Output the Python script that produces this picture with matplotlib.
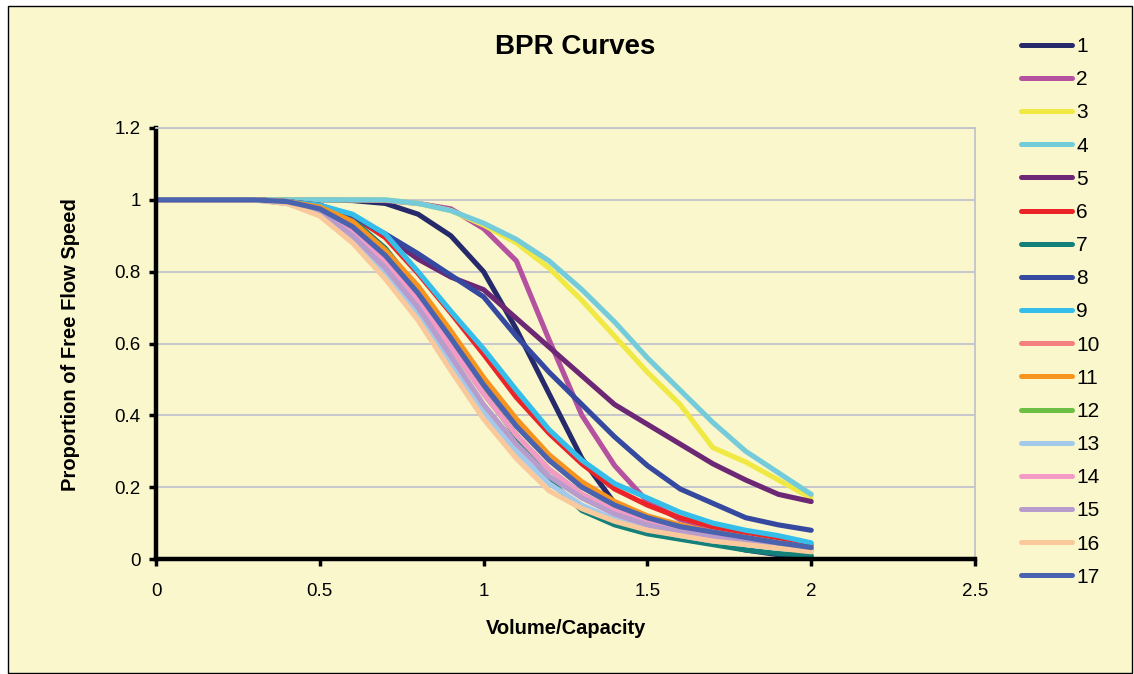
import matplotlib
matplotlib.use("Agg")
import matplotlib.pyplot as plt
from matplotlib.patches import Rectangle

plt.rcParams['font.family'] = ['Liberation Sans', 'DejaVu Sans']

# volume/capacity ratio, 0 to 2 in steps of 0.1
vc = [0.0, 0.1, 0.2, 0.3, 0.4, 0.5, 0.6, 0.7, 0.8, 0.9, 1.0,
      1.1, 1.2, 1.3, 1.4, 1.5, 1.6, 1.7, 1.8, 1.9, 2.0]

# proportion of free flow speed, one list per curve
c1 = [1, 1, 1, 1, 1, 1, 0.998, 0.99, 0.96, 0.90, 0.80,
      0.64, 0.46, 0.28, 0.155, 0.10, 0.07, 0.045, 0.025, 0.012, 0.005]
c2 = [1, 1, 1, 1, 1, 1, 1, 0.998, 0.99, 0.975, 0.92,
      0.83, 0.61, 0.40, 0.26, 0.16, 0.11, 0.085, 0.065, 0.045, 0.03]
c3 = [1, 1, 1, 1, 1, 1, 1, 1, 0.99, 0.97, 0.93,
      0.88, 0.81, 0.72, 0.62, 0.52, 0.43, 0.31, 0.27, 0.22, 0.17]
c4 = [1, 1, 1, 1, 1, 1, 1, 1, 0.99, 0.97, 0.935,
      0.89, 0.83, 0.75, 0.66, 0.56, 0.47, 0.38, 0.30, 0.24, 0.18]
c5 = [1, 1, 1, 1, 0.995, 0.98, 0.955, 0.90, 0.835, 0.785, 0.75,
      0.67, 0.59, 0.51, 0.43, 0.375, 0.32, 0.265, 0.22, 0.18, 0.16]
c6 = [1, 1, 1, 1, 0.995, 0.985, 0.955, 0.895, 0.795, 0.685, 0.57,
      0.45, 0.35, 0.265, 0.195, 0.15, 0.115, 0.09, 0.07, 0.055, 0.04]
c7 = [1, 1, 1, 1, 0.995, 0.98, 0.945, 0.865, 0.75, 0.615, 0.47,
      0.34, 0.22, 0.135, 0.095, 0.07, 0.055, 0.04, 0.025, 0.015, 0.01]
c8 = [1, 1, 1, 1, 0.995, 0.985, 0.955, 0.905, 0.85, 0.79, 0.73,
      0.62, 0.52, 0.43, 0.34, 0.26, 0.195, 0.155, 0.115, 0.095, 0.08]
c9 = [1, 1, 1, 1, 0.995, 0.985, 0.96, 0.905, 0.80, 0.69, 0.585,
      0.47, 0.36, 0.275, 0.21, 0.17, 0.13, 0.10, 0.08, 0.065, 0.045]
c10 = [1, 1, 1, 1, 0.995, 0.975, 0.925, 0.845, 0.74, 0.615, 0.485,
       0.37, 0.275, 0.20, 0.15, 0.115, 0.09, 0.075, 0.06, 0.045, 0.03]
c11 = [1, 1, 1, 1, 0.995, 0.98, 0.94, 0.86, 0.76, 0.635, 0.505,
       0.39, 0.29, 0.215, 0.16, 0.12, 0.095, 0.075, 0.06, 0.045, 0.03]
c12 = [1, 1, 1, 1, 0.995, 0.97, 0.91, 0.83, 0.72, 0.59, 0.46,
       0.345, 0.25, 0.18, 0.135, 0.10, 0.08, 0.065, 0.05, 0.04, 0.03]
c13 = [1, 1, 1, 1, 0.99, 0.96, 0.89, 0.795, 0.685, 0.545, 0.41,
       0.30, 0.21, 0.15, 0.11, 0.085, 0.065, 0.05, 0.04, 0.03, 0.025]
c14 = [1, 1, 1, 1, 0.995, 0.97, 0.91, 0.83, 0.72, 0.59, 0.46,
       0.345, 0.25, 0.18, 0.135, 0.10, 0.08, 0.065, 0.05, 0.04, 0.03]
c15 = [1, 1, 1, 1, 0.99, 0.965, 0.90, 0.81, 0.70, 0.565, 0.43,
       0.32, 0.23, 0.17, 0.125, 0.095, 0.075, 0.06, 0.045, 0.035, 0.028]
c16 = [1, 1, 1, 1, 0.99, 0.955, 0.88, 0.78, 0.665, 0.525, 0.39,
       0.28, 0.19, 0.14, 0.105, 0.08, 0.065, 0.05, 0.04, 0.03, 0.02]
c17 = [1, 1, 1, 1, 0.995, 0.975, 0.925, 0.845, 0.74, 0.615, 0.485,
       0.37, 0.275, 0.20, 0.15, 0.115, 0.09, 0.075, 0.06, 0.045, 0.032]

curves = [c1, c2, c3, c4, c5, c6, c7, c8, c9, c10, c11, c12, c13, c14, c15, c16, c17]
labels = [str(i) for i in range(1, 18)]
colors = ["#262A6B", "#B5529F", "#F0E843", "#74CBDA", "#6D2875", "#EC2427",
          "#13807A", "#3549A0", "#35BEE9", "#F58080", "#F7941E", "#6CBE45",
          "#A3C9EB", "#F39BC6", "#B79CCC", "#F9C99B", "#4A63AE"]

bg = "#FAF7CD"
W, H = 1134, 674

fig = plt.figure(figsize=(W / 100, H / 100), dpi=100, facecolor="white")
fig.patches.append(Rectangle((8 / W, 1 / H), (W - 10) / W, (H - 7) / H,
                             transform=fig.transFigure, facecolor=bg,
                             edgecolor="black", lw=1.0, zorder=-10))

ax = fig.add_axes([156 / W, 1 - 559 / H, (975 - 156) / W, (559 - 128) / H])
ax.set_facecolor(bg)

for ys, lab, col in zip(curves, labels, colors):
    ax.plot(vc, ys, color=col, lw=3.7, label=lab,
            solid_joinstyle="round", solid_capstyle="round")

ax.set_xlim(0, 2.5)
ax.set_ylim(0, 1.2)
ax.set_xticks([0, 0.5, 1, 1.5, 2, 2.5])
ax.set_xticklabels(["0", "0.5", "1", "1.5", "2", "2.5"])
ax.set_yticks([0, 0.2, 0.4, 0.6, 0.8, 1.0, 1.2])
ax.set_yticklabels(["0", "0.2", "0.4", "0.6", "0.8", "1", "1.2"])
ax.grid(axis="y", color="#C2C2CC", lw=1.3)
ax.set_axisbelow(True)

for side in ["left", "bottom"]:
    ax.spines[side].set_linewidth(3.2)
    ax.spines[side].set_color("black")
for side in ["top", "right"]:
    ax.spines[side].set_linewidth(1.3)
    ax.spines[side].set_color("#C2C2CC")
ax.tick_params(axis="both", direction="out", length=5, width=2.5,
               labelsize=13.5, pad=6, color="black")
ax.tick_params(axis="x", pad=12)

fig.text(575 / W, 1 - 47 / H, "BPR Curves", fontsize=20, fontweight="bold",
         ha="center", va="center")
fig.text(566 / W, 1 - 628 / H, "Volume/Capacity", fontsize=14.5,
         fontweight="bold", ha="center", va="center")
fig.text(71 / W, 1 - 345 / H, "Proportion of Free Flow Speed", fontsize=14.5,
         fontweight="bold", ha="center", va="center", rotation=90)

leg = fig.legend(loc="upper left", bbox_to_anchor=(1021 / W, 1 - 37 / H),
                 frameon=False, fontsize=15, handlelength=2.45,
                 handletextpad=0.2, labelspacing=0.68, borderpad=0,
                 borderaxespad=0)
for line in leg.get_lines():
    line.set_linewidth(3.6)

fig.savefig("out.png", dpi=100, facecolor=fig.get_facecolor())
